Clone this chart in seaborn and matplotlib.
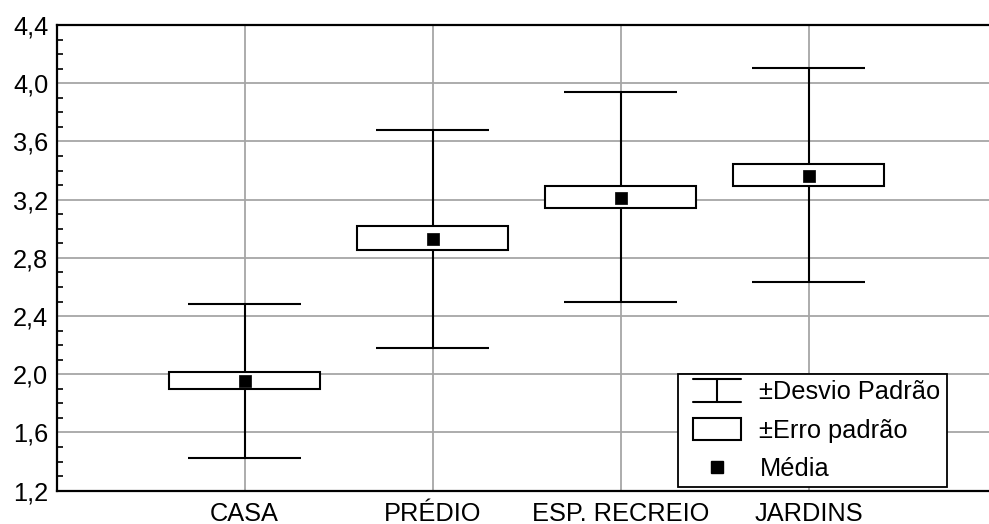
import matplotlib
matplotlib.use("Agg")
import matplotlib.pyplot as plt
from matplotlib.lines import Line2D
from matplotlib.patches import Rectangle
from matplotlib.legend_handler import HandlerBase
from matplotlib.ticker import FixedLocator, MultipleLocator, FuncFormatter
import seaborn as sns
import numpy as np
import pandas as pd

# ---- data ----
categories = ["CASA", "PRÉDIO", "ESP. RECREIO", "JARDINS"]
means = [1.956, 2.932, 3.214, 3.365]
se_low = [1.899, 2.852, 3.143, 3.294]
se_high = [2.014, 3.017, 3.292, 3.445]
sd_low = [1.423, 2.181, 2.497, 2.634]
sd_high = [2.481, 3.679, 3.942, 4.103]
y_ticks = [1.2, 1.6, 2.0, 2.4, 2.8, 3.2, 3.6, 4.0, 4.4]
legend_labels = ["±Desvio Padrão", "±Erro padrão", "Média"]

df = pd.DataFrame({"cat": categories, "mean": means,
                   "se_lo": se_low, "se_hi": se_high,
                   "sd_lo": sd_low, "sd_hi": sd_high})

sns.set_theme(style="white")
plt.rcParams["font.family"] = ["Liberation Sans", "DejaVu Sans"]
plt.rcParams["text.color"] = "black"
plt.rcParams["xtick.labelcolor"] = "black"
plt.rcParams["ytick.labelcolor"] = "black"

FS = 18.3
W, H = 989, 524
fig = plt.figure(figsize=(W / 100, H / 100), dpi=100)
left_px, right_px, top_px, bottom_px = 56.5, 989, 25, 490.7
ax = fig.add_axes([left_px / W, 1 - bottom_px / H,
                   (right_px - left_px) / W, (bottom_px - top_px) / H])

# mean markers through seaborn (categorical x -> positions 0..3)
sns.scatterplot(data=df, x="cat", y="mean", marker="s", s=70, color="black",
                edgecolor="black", linewidth=0.5, zorder=5, ax=ax, legend=False)

xpos = np.arange(len(categories))
lw = 1.5
# SD whiskers
ax.vlines(xpos, df["sd_lo"], df["sd_hi"], color="black", lw=lw, zorder=2)
cap_w = 0.606
ax.hlines(df["sd_lo"], xpos - cap_w / 2, xpos + cap_w / 2, color="black", lw=lw, zorder=2)
ax.hlines(df["sd_hi"], xpos - cap_w / 2, xpos + cap_w / 2, color="black", lw=lw, zorder=2)
# SE boxes
ax.bar(xpos, df["se_hi"] - df["se_lo"], bottom=df["se_lo"], width=0.8,
       facecolor="white", edgecolor="black", linewidth=lw, zorder=3)

ax.set_xlim(-1, 3.96)
ax.set_ylim(1.2, 4.4)
ax.set_xticks(xpos)
ax.set_xticklabels(categories)
ax.yaxis.set_major_locator(FixedLocator(y_ticks))
ax.yaxis.set_minor_locator(MultipleLocator(0.1))
ax.yaxis.set_major_formatter(FuncFormatter(lambda v, p: f"{v:.1f}".replace(".", ",")))
ax.set_xlabel("")
ax.set_ylabel("")

ax.grid(True, which="major", color="#a6a6a6", lw=1.3)
ax.set_axisbelow(True)
ax.tick_params(axis="y", which="major", direction="in", length=0, pad=6,
               labelsize=FS, colors="black")
ax.tick_params(axis="y", which="minor", direction="in", length=4, width=1.2,
               color="black", left=True)
ax.tick_params(axis="x", which="major", direction="out", length=4, width=1.2,
               color="#a6a6a6", pad=4, labelsize=FS, labelcolor="black")
for s in ["left", "bottom", "top"]:
    ax.spines[s].set_visible(True)
    ax.spines[s].set_color("black")
    ax.spines[s].set_linewidth(1.6)
ax.spines["right"].set_visible(False)

ART_FRAC = 48.0 / 57.0  # fraction of handle box occupied by the drawn symbol (right part)


class IBeamHandler(HandlerBase):
    def create_artists(self, legend, orig_handle, xdescent, ydescent,
                       width, height, fontsize, trans):
        x1 = -xdescent + width
        x0 = x1 - width * ART_FRAC
        y0, y1 = -ydescent - 0.1 * height, -ydescent + 1.1 * height
        xm = (x0 + x1) / 2
        arts = [Line2D([x0, x1], [y1, y1]), Line2D([x0, x1], [y0, y0]),
                Line2D([xm, xm], [y0, y1])]
        for a in arts:
            a.set_color("black")
            a.set_linewidth(1.5)
            a.set_transform(trans)
        return arts


class BoxHandler(HandlerBase):
    def create_artists(self, legend, orig_handle, xdescent, ydescent,
                       width, height, fontsize, trans):
        x1 = -xdescent + width
        x0 = x1 - width * ART_FRAC
        r = Rectangle((x0, -ydescent - 0.05 * height), x1 - x0, 1.1 * height,
                      facecolor="white", edgecolor="black", lw=1.5, transform=trans)
        return [r]


class MarkerHandler(HandlerBase):
    def create_artists(self, legend, orig_handle, xdescent, ydescent,
                       width, height, fontsize, trans):
        x1 = -xdescent + width
        x0 = x1 - width * ART_FRAC
        m = Line2D([(x0 + x1) / 2], [-ydescent + height / 2], marker="s",
                   markersize=8.5, color="black", linestyle="none", transform=trans)
        return [m]


class SDHandle: pass
class SEHandle: pass
class MeanHandle: pass


hl = 57.0 / (FS * 100 / 72)  # handle length in font-size units (57 px)
leg = ax.legend([SDHandle(), SEHandle(), MeanHandle()], legend_labels,
                handler_map={SDHandle: IBeamHandler(), SEHandle: BoxHandler(),
                             MeanHandle: MarkerHandler()},
                loc="lower left", bbox_to_anchor=(0.6665, 0.008), borderaxespad=0,
                fontsize=FS, handlelength=hl, handleheight=0.8, handletextpad=0.72,
                labelspacing=0.56, borderpad=0.24, fancybox=False, frameon=True,
                framealpha=1)
leg.get_frame().set_edgecolor("black")
leg.get_frame().set_linewidth(1.3)
leg.set_zorder(10)

fig.savefig("out.png", dpi=100)
